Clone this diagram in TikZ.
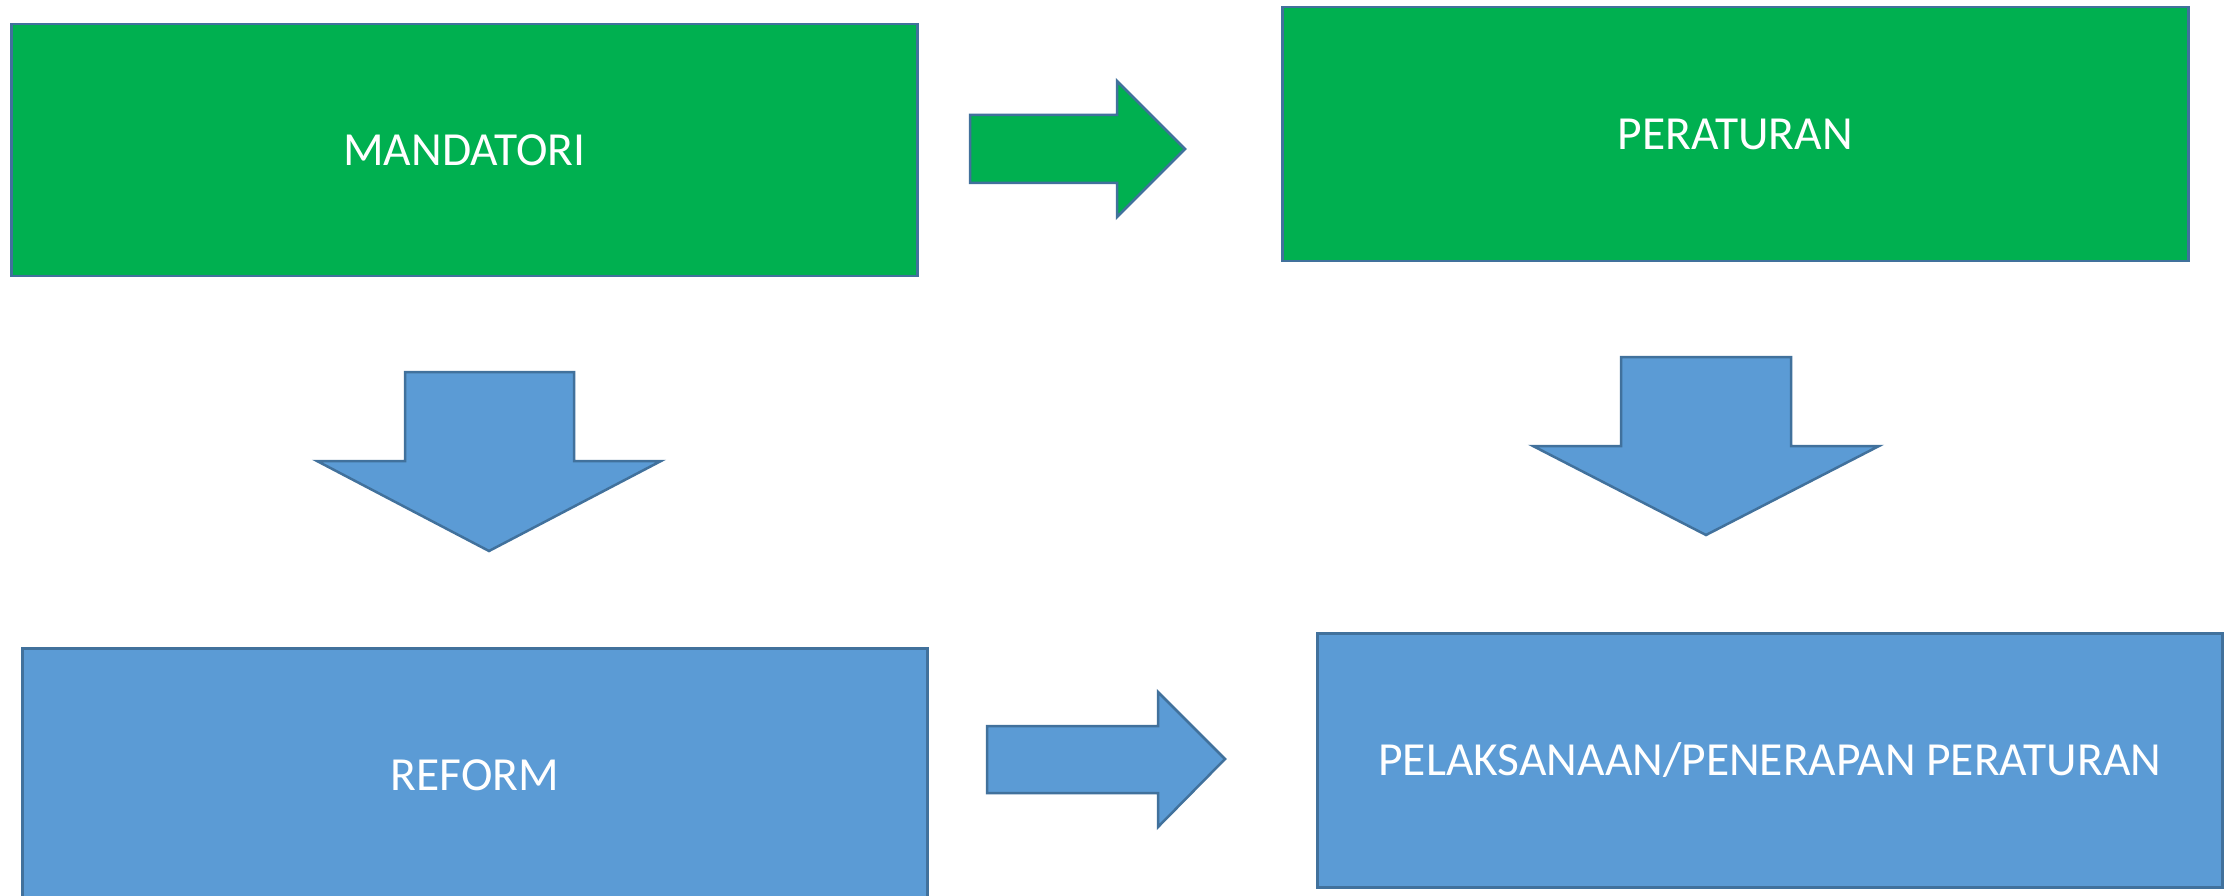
\documentclass[tikz,border=0pt]{standalone}
\usepackage{fontspec}
\setmainfont{Carlito}
\definecolor{pgreen}{HTML}{00B050}
\definecolor{pblue}{HTML}{5B9BD5}
\definecolor{pline}{HTML}{41719C}
\begin{document}
\begin{tikzpicture}[x=1pt,y=-1pt,
  box/.style={draw=pline,line width=2.5pt,rectangle,anchor=north west,inner sep=0pt,
    text=white,font=\fontsize{47.5}{56}\selectfont},
  blockarrow/.style={draw=pline,line width=2.5pt,line join=miter}]
\useasboundingbox (0,0) rectangle (2231,896);
\fill[white] (0,0) rectangle (2231,896);
% boxes
\node[box,fill=pgreen,minimum width=906pt,minimum height=252pt] (mand) at (10,23) {MANDATORI};
\node[box,fill=pgreen,minimum width=906pt,minimum height=254pt] (perat) at (1281,6) {PERATURAN};
\node[box,fill=pblue,minimum width=905pt,minimum height=254pt] (reform) at (21,647) {REFORM};
\node[box,fill=pblue,minimum width=905pt,minimum height=254pt] (pelak) at (1316,632) {PELAKSANAAN/PENERAPAN PERATURAN};
% block arrows
\filldraw[blockarrow,fill=pgreen] (970,115) -- (1117,115) -- (1117,81) -- (1185,149) -- (1117,217) -- (1117,183) -- (970,183) -- cycle;
\filldraw[blockarrow,fill=pblue] (987,726) -- (1158,726) -- (1158,692) -- (1225,759) -- (1158,827) -- (1158,793) -- (987,793) -- cycle;
\filldraw[blockarrow,fill=pblue] (405,372) -- (574,372) -- (574,461) -- (661,461) -- (489,551) -- (317,461) -- (405,461) -- cycle;
\filldraw[blockarrow,fill=pblue] (1621,357) -- (1791,357) -- (1791,446) -- (1879,446) -- (1706,535) -- (1533,446) -- (1621,446) -- cycle;
\end{tikzpicture}
\end{document}
